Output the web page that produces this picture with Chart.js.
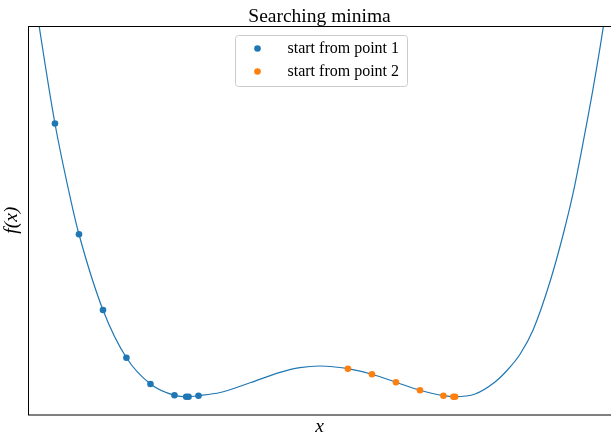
<!DOCTYPE html>
<html>
<head>
<meta charset="utf-8">
<title>Searching minima</title>
<script src="https://cdn.jsdelivr.net/npm/chart.js@4.4.1/dist/chart.umd.min.js"></script>
<style>
  html, body { margin: 0; padding: 0; background: #fff; }
  canvas { display: block; }
</style>
</head>
<body>
<canvas id="minima-chart" width="611" height="432"></canvas>
<script>
// Curva f(x) (unidades arbitrarias, sin ticks)
const curveX = [0.00, 0.19, 0.46, 0.73, 0.87, 1.28, 1.68, 2.09, 2.50, 2.73, 2.91, 3.28, 3.79, 4.30, 4.64, 4.98, 5.24, 5.46, 5.87, 6.28, 6.69, 7.09, 7.28, 7.63, 7.97, 8.19, 8.40, 8.62, 8.91, 9.14, 9.30, 9.48, 9.65, 9.82, 9.95, 10.00];
const curveY = [119.6, 100.0, 74.9, 55.2, 46.4, 26.9, 14.6, 7.85, 4.94, 4.58, 4.84, 5.66, 8.16, 10.84, 12.05, 12.48, 12.23, 11.79, 10.35, 8.29, 6.23, 4.84, 4.58, 5.28, 8.37, 11.58, 15.57, 21.75, 34.23, 46.72, 56.76, 70.48, 84.40, 99.92, 113.8, 119.3];

// Puntos del descenso
const start1X = [0.46, 0.87, 1.28, 1.68, 2.09, 2.50, 2.91, 2.70, 2.74];
const start1Y = [74.9, 46.4, 26.9, 14.6, 7.85, 4.94, 4.84, 4.58, 4.58];
const start2X = [5.46, 5.87, 6.28, 6.69, 7.09, 7.26, 7.29];
const start2Y = [11.79, 10.35, 8.29, 6.23, 4.84, 4.58, 4.58];

const seriesLabels = ['start from point 1', 'start from point 2'];
const seriesColors = ['#1f77b4', '#ff7f0e'];

function toPoints(xs, ys) {
    return xs.map((x, i) => ({ x: x, y: ys[i] }));
}

// Marco de los ejes (el lado derecho queda fuera del lienzo)
const frame = {
    id: 'frame',
    afterDatasetsDraw(chart) {
        const { ctx, chartArea } = chart;
        ctx.save();
        ctx.strokeStyle = '#000';
        ctx.lineWidth = 1;
        ctx.strokeRect(Math.round(chartArea.left) + 0.5, Math.round(chartArea.top) + 0.5,
            chartArea.right - chartArea.left, chartArea.bottom - chartArea.top);
        ctx.restore();
    }
};

// Leyenda dentro del area, estilo matplotlib
const legendBox = {
    id: 'legendBox',
    afterDraw(chart) {
        const { ctx, chartArea } = chart;
        const w = 172, h = 51;
        const x = Math.round((chartArea.left + chartArea.right) / 2 - w / 2 + 1.5);
        const y = Math.round(chartArea.top + 8.7);
        ctx.save();
        ctx.beginPath();
        ctx.roundRect(x + 0.5, y + 0.5, w, h, 3);
        ctx.fillStyle = 'rgba(255,255,255,0.8)';
        ctx.fill();
        ctx.strokeStyle = '#cccccc';
        ctx.lineWidth = 1;
        ctx.stroke();
        ctx.font = '16px "Liberation Serif"';
        ctx.textBaseline = 'middle';
        seriesLabels.forEach((label, i) => {
            const rowY = y + 13.5 + i * 23;
            ctx.beginPath();
            ctx.arc(x + 22.5, rowY, 3.3, 0, Math.PI * 2);
            ctx.fillStyle = seriesColors[i];
            ctx.fill();
            ctx.fillStyle = '#000';
            ctx.fillText(label, x + 52.5, rowY);
        });
        ctx.restore();
    }
};

Chart.defaults.font.family = '"Liberation Serif", serif';
Chart.defaults.color = '#000';

new Chart(document.getElementById('minima-chart'), {
    type: 'scatter',
    data: {
        datasets: [
            {
                label: seriesLabels[0],
                data: toPoints(start1X, start1Y),
                backgroundColor: seriesColors[0],
                borderWidth: 0,
                pointRadius: 3.3
            },
            {
                label: seriesLabels[1],
                data: toPoints(start2X, start2Y),
                backgroundColor: seriesColors[1],
                borderWidth: 0,
                pointRadius: 3.3
            },
            {
                label: 'f(x)',
                data: toPoints(curveX, curveY),
                showLine: true,
                borderColor: seriesColors[0],
                borderWidth: 1.2,
                pointRadius: 0,
                cubicInterpolationMode: 'monotone'
            }
        ]
    },
    options: {
        responsive: false,
        devicePixelRatio: 1,
        animation: false,
        layout: { padding: 0, autoPadding: false },
        plugins: {
            legend: { display: false },
            tooltip: { enabled: false },
            title: {
                display: true,
                fullSize: false,
                text: 'Searching minima',
                font: { size: 19.5, weight: 'normal', lineHeight: 1 },
                padding: { top: 7.6, bottom: -1.1 }
            }
        },
        scales: {
            x: {
                min: 0,
                max: 9.95,
                grid: { display: false },
                border: { display: false },
                ticks: { display: false },
                title: {
                    display: true,
                    text: 'x',
                    font: { size: 19.5, style: 'italic', lineHeight: 1 },
                    padding: { top: 0, bottom: -4.5 }
                },
                afterFit(scale) { scale.height = 17.5; }
            },
            y: {
                min: 0,
                max: 100,
                grid: { display: false },
                border: { display: false },
                ticks: { display: false },
                title: {
                    display: true,
                    text: 'f(x)',
                    font: { size: 19.5, style: 'italic', lineHeight: 1 },
                    padding: { top: 2.5, bottom: 0 }
                },
                afterFit(scale) { scale.width = 28; }
            }
        }
    },
    plugins: [frame, legendBox]
});
</script>
</body>
</html>
